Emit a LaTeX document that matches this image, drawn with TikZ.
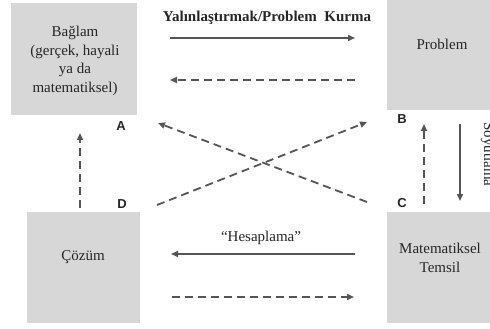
\documentclass[tikz,border=0pt]{standalone}
\usepackage{fontspec}
\setmainfont{Liberation Serif}
\newfontfamily\cornerfont{Liberation Sans}
\usetikzlibrary{arrows.meta}
\definecolor{boxgray}{HTML}{D7D7D7}
\definecolor{arrowgray}{HTML}{555555}
\definecolor{inkgray}{HTML}{262626}
\begin{document}
\begin{tikzpicture}[x=1pt,y=-1pt,
  panel/.style={fill=boxgray, draw=none, inner sep=0pt, anchor=north west},
  txt/.style={text=inkgray, font=\fontsize{15}{18.5}\selectfont, align=center, inner sep=0pt},
  corner/.style={text=inkgray, font=\cornerfont\bfseries\fontsize{13}{13}\selectfont, inner sep=0pt},
  tip/.style={-{Triangle[length=7pt,width=6pt]}},
  solidarrow/.style={tip, draw=arrowgray, line width=1.6pt},
  dasharrow/.style={tip, draw=arrowgray, line width=1.8pt, dash pattern=on 8pt off 5pt}]
\useasboundingbox (0,0) rectangle (490,329);

% panels
\node[panel, minimum width=126pt, minimum height=112pt] (context) at (11,3) {};
\node[panel, minimum width=110pt, minimum height=110pt] (problem) at (387,0) {};
\node[panel, minimum width=113pt, minimum height=111pt] (solution) at (27,212) {};
\node[panel, minimum width=110pt, minimum height=111pt] (model) at (387,212) {};

% panel texts
\node[txt] (contextT) at (75,61) {Bağlam\\(gerçek, hayali\\ya da\\matematiksel)};
\node[txt] (problemT) at (442,44) {Problem};
\node[txt] (solutionT) at (83,257) {Çözüm};
\node[txt] (modelT) at (440,258) {Matematiksel\\Temsil};

% arrow labels
\node[txt, font=\bfseries\fontsize{15}{18}\selectfont] (simplify) at (267,18) {Yalınlaştırmak/Problem\ \ Kurma};
\node[txt] (compute) at (261,238) {``Hesaplama''};
\node[txt, rotate=-90, anchor=base west] (abstract) at (484,122) {Soyutlama};

% corner letters
\node[corner] (A) at (121,126) {A};
\node[corner] (B) at (402,119) {B};
\node[corner] (C) at (402,203) {C};
\node[corner] (D) at (122,204) {D};

% arrow end points
\coordinate (t1) at (170,38);  \coordinate (t2) at (355,38);
\coordinate (t3) at (355,80);  \coordinate (t4) at (170,80);
\coordinate (b1) at (355,254); \coordinate (b2) at (171,254);
\coordinate (b3) at (172,297); \coordinate (b4) at (354,297);
\coordinate (l1) at (80,208);  \coordinate (l2) at (80,133);
\coordinate (r1) at (424,204); \coordinate (r2) at (424,124);
\coordinate (s1) at (460,124); \coordinate (s2) at (460,201);
\coordinate (x1) at (367,202); \coordinate (x2) at (158,123);
\coordinate (y1) at (157,205); \coordinate (y2) at (367,122);

% arrows
\draw[solidarrow] (t1) -- (t2);
\draw[dasharrow] (t3) -- (t4);
\draw[solidarrow] (b1) -- (b2);
\draw[dasharrow] (b3) -- (b4);
\draw[dasharrow] (l1) -- (l2);
\draw[dasharrow] (r1) -- (r2);
\draw[solidarrow] (s1) -- (s2);
\draw[dasharrow] (x1) -- (x2);
\draw[dasharrow] (y1) -- (y2);
\end{tikzpicture}
\end{document}
